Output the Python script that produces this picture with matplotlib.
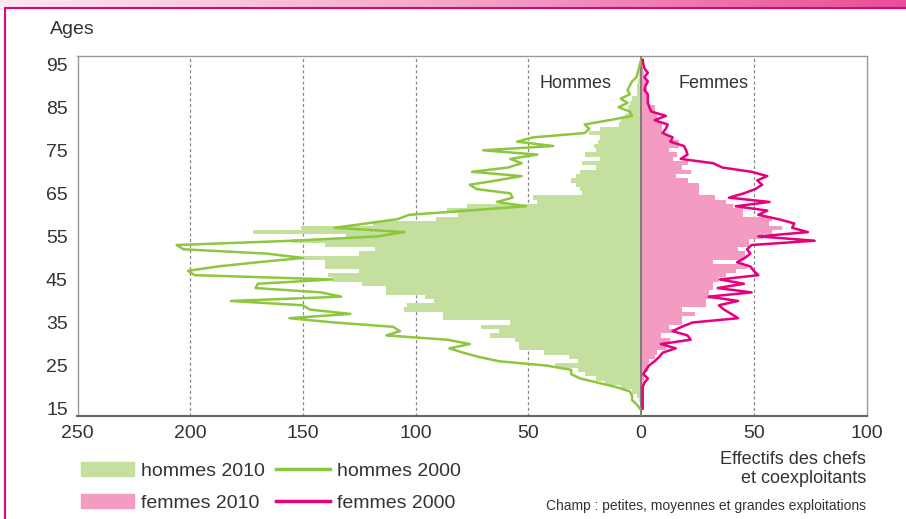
import numpy as np
import matplotlib
matplotlib.use("Agg")
import matplotlib.pyplot as plt
from matplotlib.patches import Patch
from matplotlib.lines import Line2D
from matplotlib.colors import LinearSegmentedColormap

plt.rcParams['font.family'] = ['Liberation Sans', 'DejaVu Sans']

# ages 15 .. 96
ages = list(range(15, 97))

hommes_2010 = [0, 0.5, 1, 2, 4, 9, 16, 20, 25, 28,
               38, 28, 32, 43, 54, 54, 56, 67, 63, 71,
               58, 88, 88, 105, 104, 92, 96, 113, 113, 124,
               137, 139, 125, 140, 140, 150, 125, 118, 140, 155,
               131, 172, 151, 119, 91, 81, 86, 77, 46, 48,
               26, 27, 29, 31, 29, 27, 20, 26, 18, 25,
               20, 21, 19, 18, 23, 18, 10, 9, 7, 6,
               6, 5, 4, 2, 2, 2, 1.5, 1, 1, 0.5,
               0.5, 0.3]

hommes_2000 = [0.5, 2, 4, 4, 5, 11, 19, 27, 31, 31,
               42, 63, 72, 79, 85, 76, 86, 113, 107, 110,
               136, 156, 129, 147, 150, 182, 133, 142, 171, 170,
               137, 198, 201, 188, 170, 150, 166, 203, 206, 154,
               117, 105, 136, 122, 108, 103, 77, 51, 64, 57,
               58, 73, 76, 64, 53, 75, 59, 53, 58, 46,
               70, 39, 55, 48, 25, 23, 25, 14, 4, 5,
               10, 6, 9, 5, 6, 5, 4, 2, 1.5, 1,
               0.5, 0]

femmes_2010 = [0, 0.2, 0.3, 0.3, 0.5, 0.5, 1, 1.5, 1.5, 3,
               3, 3.7, 6, 7, 11, 11, 13, 9, 16, 12.5,
               18, 18, 24, 18, 29, 29, 34, 30, 32, 32,
               34.5, 37.5, 42, 47, 32, 46, 46, 43, 47.8, 47.8,
               54, 58, 62.5, 56.6, 58, 45, 45, 41, 37.5, 33,
               25.7, 25.7, 25.7, 20.6, 15.4, 22, 18, 20.6, 14, 16,
               12.5, 17, 17, 13, 9.5, 9.5, 9.5, 8, 7, 6,
               6, 3, 2.5, 2.5, 2.5, 2, 2, 2, 1.5, 1,
               0.5, 0.5]

femmes_2000 = [0.7, 0.7, 0.7, 0.7, 0.7, 0.7, 1.5, 3, 1, 2.2,
               3.5, 6, 8, 9.6, 15.4, 8.8, 22, 20.6, 14, 18,
               22.8, 43, 40, 36.8, 34.5, 43, 30, 49, 34, 45.6,
               35, 52, 50, 48.5, 42.6, 46, 48.5, 47, 49, 77,
               52, 74, 67, 68, 61, 52, 56, 42, 57, 39,
               45.6, 50.7, 53.7, 51.5, 56, 49, 36, 32, 17.6, 20.6,
               20, 19, 13, 14, 9.5, 11, 11.8, 6, 11, 4.5,
               3.7, 3, 3, 3, 1.5, 2, 3, 1.5, 3, 1.5,
               1, 0.7]

vert_clair = '#c5e09e'
vert = '#8dc63f'
rose_clair = '#f39bc1'
rose = '#e5007d'
gris = '#333333'

fig = plt.figure(figsize=(9.06, 5.19), dpi=100)
ax = fig.add_axes([77.5/906, 1-415.5/519, 789/906, 359.5/519])

h10 = np.array(hommes_2010)
h00 = np.array(hommes_2000)
f10 = np.array(femmes_2010)
f00 = np.array(femmes_2000)

for g in [-200, -150, -100, -50, 50]:
    ax.axvline(g, color='#888888', lw=0.9, ls=(0, (2.5, 2)), zorder=1)

ax.barh(ages, -h10, height=1.0, color=vert_clair, lw=0, zorder=2)
ax.barh(ages, f10, height=1.0, color=rose_clair, lw=0, zorder=2)
ax.axvline(0, color='#777777', lw=1.3, zorder=3)
ax.plot(-h00, ages, color=vert, lw=1.8, zorder=4)
ax.plot(f00, ages, color=rose, lw=1.8, zorder=4)

ax.set_xlim(-250, 100)
ax.set_ylim(13.4, 96.9)
ax.set_xticks([-250, -200, -150, -100, -50, 0, 50, 100])
ax.set_xticklabels(['250', '200', '150', '100', '50', '0', '50', '100'])
ax.set_yticks(range(15, 96, 10))
ax.tick_params(length=0, labelsize=14, colors=gris, pad=7)
for s in ['left', 'top', 'right']:
    ax.spines[s].set_color('#999999')
    ax.spines[s].set_linewidth(1.0)
ax.spines['bottom'].set_color('#666666')
ax.spines['bottom'].set_linewidth(1.5)

ax.text(-29, 90.6, 'Hommes', ha='center', va='center', fontsize=13, color=gris)
ax.text(32, 90.6, 'Femmes', ha='center', va='center', fontsize=13, color=gris)

fig.text(50/906, 1-30/519, 'Ages', ha='left', va='center', fontsize=14, color=gris)

handles = [Patch(color=vert_clair), Patch(color=rose_clair),
           Line2D([], [], color=vert, lw=2.5), Line2D([], [], color=rose, lw=2.5)]
labels = ['hommes 2010', 'femmes 2010', 'hommes 2000', 'femmes 2000']
fig.legend(handles, labels, ncol=2, loc='lower left',
           bbox_to_anchor=(63/906, -10/519), frameon=False, fontsize=14,
           handlelength=2.75, handleheight=0.75, handletextpad=0.35,
           columnspacing=0.6, labelspacing=0.72, labelcolor=gris)

fig.text(866/906, 1-469/519, 'Effectifs des chefs\net coexploitants', ha='right',
         va='center', fontsize=13, color=gris, linespacing=1.15)
fig.text(866/906, 1-506/519, 'Champ : petites, moyennes et grandes exploitations',
         ha='right', va='center', fontsize=10, color=gris)

# bandeau rose en haut et bordure gauche
bande = fig.add_axes([0, 1-7/519, 1, 7/519])
grad = np.linspace(0, 1, 256).reshape(1, -1)
cmap = LinearSegmentedColormap.from_list('bande', ['#fde8f1', '#f4a6c8', '#e94e96'])
bande.imshow(grad, aspect='auto', cmap=cmap)
bande.axis('off')
fig.add_artist(Line2D([5/906, 1], [1-7.5/519, 1-7.5/519], color=rose, lw=1.5))
fig.add_artist(Line2D([5/906, 5/906], [0, 1-7.5/519], color=rose, lw=1.5))

fig.savefig('out.png', dpi=100)
